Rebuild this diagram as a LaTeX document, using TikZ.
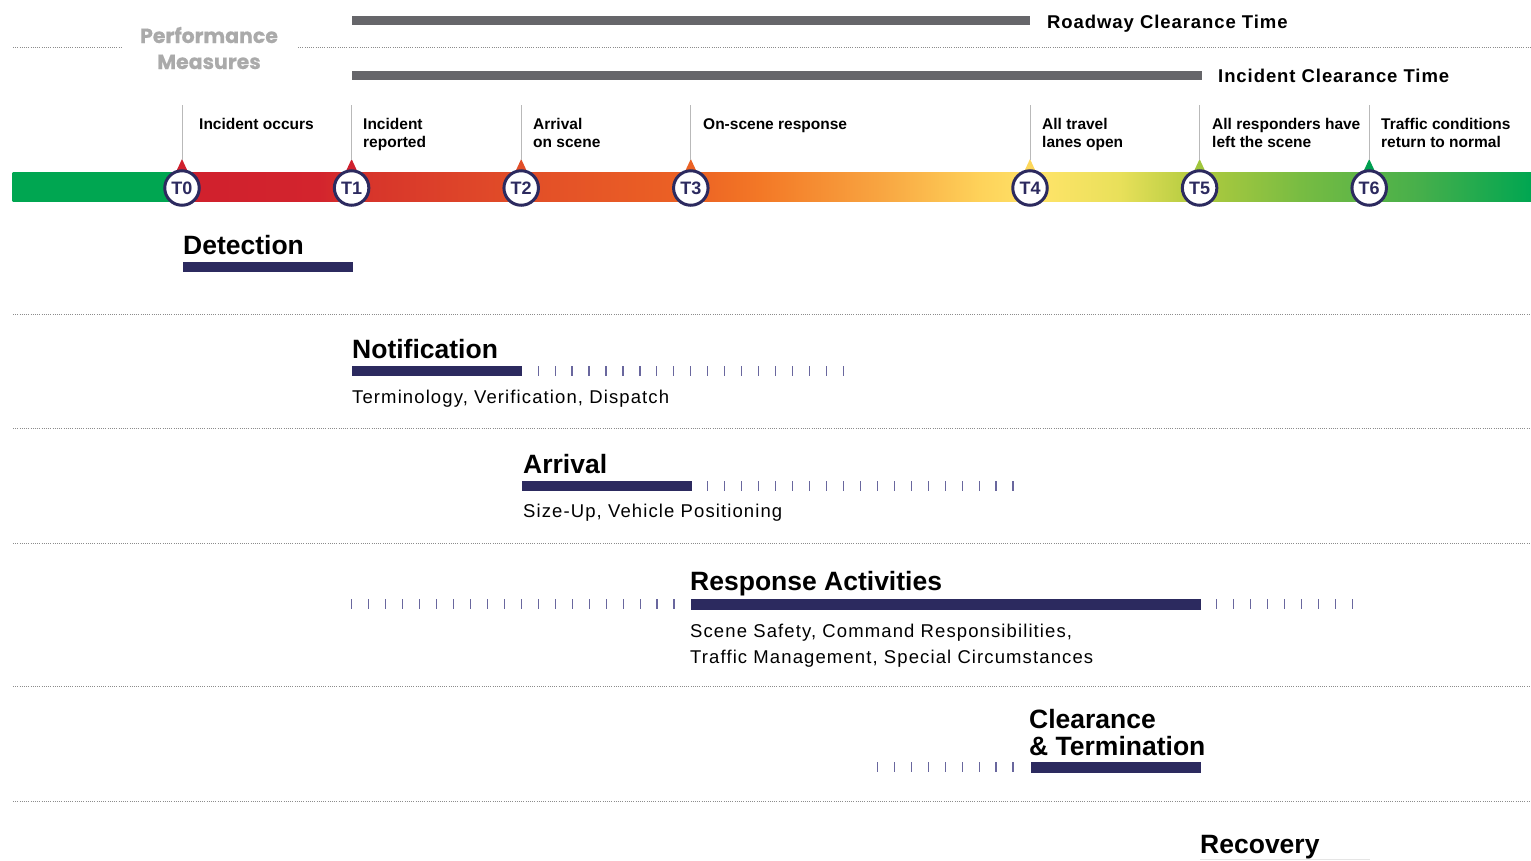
\documentclass[tikz,border=0pt]{standalone}
\usepackage{fontspec}
\setmainfont{Liberation Sans}
\newfontfamily\popfont{Poppins}[FakeBold=0.6]
\newfontfamily\spacedfont{Liberation Sans}[LetterSpace=6]
\newfontfamily\tspaced{Liberation Sans}[LetterSpace=5]
\definecolor{navy}{RGB}{44,42,95}
\definecolor{tickc}{RGB}{105,103,158}
\definecolor{bargray}{RGB}{102,102,106}
\definecolor{pmgray}{RGB}{170,170,170}
\definecolor{dotgray}{RGB}{140,140,140}
\definecolor{pingray}{RGB}{185,185,185}
\definecolor{cG}{RGB}{0,166,81}
\definecolor{cR}{RGB}{208,32,45}
\definecolor{cR2}{RGB}{211,36,45}
\definecolor{cT1}{RGB}{214,50,43}
\definecolor{cT2}{RGB}{226,78,40}
\definecolor{cT3}{RGB}{236,98,36}
\definecolor{cO1}{RGB}{243,120,38}
\definecolor{cO2}{RGB}{248,165,65}
\definecolor{cY1}{RGB}{254,210,90}
\definecolor{cY2}{RGB}{255,228,105}
\definecolor{cY3}{RGB}{232,224,90}
\definecolor{cL1}{RGB}{175,202,62}
\definecolor{cL2}{RGB}{120,188,66}
\definecolor{cL3}{RGB}{70,175,75}
\definecolor{triT4}{RGB}{253,215,90}
\definecolor{triT5}{RGB}{160,198,60}
\definecolor{triT6}{RGB}{0,160,80}
\newcommand{\barseg}[4]{\shade[left color=#2,right color=#4] (#1-0.3,172) rectangle (#3+0.3,201.5);}
\tikzset{
  tlabel/.style={font=\bfseries\fontsize{15.5}{18}\selectfont, anchor=base west, inner sep=0pt},
  heading/.style={font=\bfseries\fontsize{26.5}{30}\selectfont, anchor=base west, inner sep=0pt},
  subtext/.style={font=\spacedfont\fontsize{18.5}{22}\selectfont, anchor=base west, inner sep=0pt},
  measure/.style={font=\tspaced\bfseries\fontsize{18.5}{22}\selectfont, anchor=base west, inner sep=0pt},
  pmtext/.style={font=\popfont\bfseries\fontsize{20.5}{24}\selectfont, text=pmgray, anchor=base, inner sep=0pt},
  tcirc/.style={circle, draw=navy, line width=3pt, fill=white, minimum size=34.5pt, inner sep=0pt,
    font=\bfseries\fontsize{18}{18}\selectfont, text=navy},
  phasebar/.style={fill=navy},
  tickmark/.style={draw=tickc, line width=1.2pt},
  sepline/.style={draw=dotgray, line width=0.8pt, dash pattern=on 1pt off 1.2pt},
  pinline/.style={draw=pingray, line width=0.7pt},
  graybar/.style={fill=bargray}
}
\begin{document}
\begin{tikzpicture}[x=1pt,y=-1pt]
\useasboundingbox (0,0) rectangle (1531,860);
% performance measures
\draw[sepline] (13,47) -- (122,47);
\draw[sepline] (298,47) -- (1531,47);
\node[pmtext] (pm1) at (209,43) {Performance};
\node[pmtext] (pm2) at (209,69) {Measures};
\fill[graybar] (352,16) rectangle (1030,24.5);
\node[measure] (rct) at (1047,28) {Roadway Clearance Time};
\fill[graybar] (352,71) rectangle (1202,80);
\node[measure] (ict) at (1218,82) {Incident Clearance Time};
% gradient bar
\barseg{13}{cG}{174}{cG}
\barseg{174}{cR}{320}{cR2}
\barseg{320}{cR2}{352}{cT1}
\barseg{352}{cT1}{521}{cT2}
\barseg{521}{cT2}{691}{cT3}
\barseg{691}{cT3}{760}{cO1}
\barseg{760}{cO1}{880}{cO2}
\barseg{880}{cO2}{980}{cY1}
\barseg{980}{cY1}{1040}{cY2}
\barseg{1040}{cY2}{1120}{cY3}
\barseg{1120}{cY3}{1200}{cL1}
\barseg{1200}{cL1}{1300}{cL2}
\barseg{1300}{cL2}{1420}{cL3}
\barseg{1420}{cL3}{1531}{cG}
% markers
\foreach \n/\x/\c in {0/182/cR,1/351.6/cR,2/521.2/cT2,3/690.8/cT3,4/1030/triT4,5/1199.6/triT5,6/1369.2/triT6}{
  \coordinate (p\n) at (\x,105);
  \fill[\c] (\x,159) -- (\x+6.5,173) -- (\x-6.5,173) -- cycle;
  \node[tcirc] (t\n) at (\x,188) {T\n};
  \draw[pinline] (p\n) -- (\x,160);
}
\node[tlabel] (l0) at (199,129) {Incident occurs};
\node[tlabel] (l1a) at (363,129) {Incident};
\node[tlabel] (l1b) at (363,147) {reported};
\node[tlabel] (l2a) at (533,129) {Arrival};
\node[tlabel] (l2b) at (533,147) {on scene};
\node[tlabel] (l3) at (703,129) {On-scene response};
\node[tlabel] (l4a) at (1042,129) {All travel};
\node[tlabel] (l4b) at (1042,147) {lanes open};
\node[tlabel] (l5a) at (1212,129) {All responders have};
\node[tlabel] (l5b) at (1212,147) {left the scene};
\node[tlabel] (l6a) at (1381,129) {Traffic conditions};
\node[tlabel] (l6b) at (1381,147) {return to normal};
% separators
\foreach \y in {314,428,543,686,801}{\draw[sepline] (13,\y) -- (1531,\y);}
% Detection
\node[heading] (hdet) at (183,254) {Detection};
\fill[phasebar] (183,262) rectangle (353,271.5);
% Notification
\node[heading] (hnot) at (352,358) {Notification};
\fill[phasebar] (352,366) rectangle (522,376);
\foreach \i in {1,...,19}{\draw[tickmark] ({521.2+16.96*\i},366) -- ++(0,10);}
\node[subtext] (snot) at (352,403) {Terminology, Verification, Dispatch};
% Arrival
\node[heading] (harr) at (523,473) {Arrival};
\fill[phasebar] (522,481) rectangle (692,490.5);
\foreach \i in {1,...,19}{\draw[tickmark] ({690.8+16.96*\i},481) -- ++(0,10);}
\node[subtext] (sarr) at (523,517) {Size-Up, Vehicle Positioning};
% Response
\node[heading] (hres) at (690,590) {Response Activities};
\fill[phasebar] (691,599) rectangle (1201,609.5);
\foreach \i in {0,...,19}{\draw[tickmark] ({351.8+16.96*\i},599) -- ++(0,10);}
\foreach \i in {1,...,9}{\draw[tickmark] ({1199.6+16.96*\i},599) -- ++(0,10);}
\node[subtext] (sres1) at (690,637) {Scene Safety, Command Responsibilities,};
\node[subtext] (sres2) at (690,663) {Traffic Management, Special Circumstances};
% Clearance
\node[heading] (hcl1) at (1029,728) {Clearance};
\node[heading] (hcl2) at (1029,755) {\& Termination};
\fill[phasebar] (1031,762) rectangle (1201,772.5);
\foreach \i in {1,...,9}{\draw[tickmark] ({1030-16.96*\i},762) -- ++(0,10);}
% Recovery
\node[heading] (hrec) at (1200,853) {Recovery};
\fill[black!10] (1200,858.5) rectangle (1370,860);
\end{tikzpicture}
\end{document}
